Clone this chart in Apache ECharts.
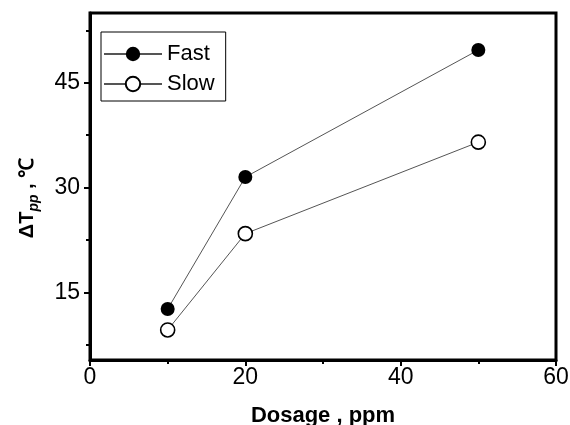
<!DOCTYPE html>
<html>
<head>
<meta charset="utf-8">
<script src="https://cdn.jsdelivr.net/npm/echarts@6/dist/echarts.min.js"></script>
<style>html,body{margin:0;padding:0;background:#fff}#c{width:570px;height:425px}</style>
</head>
<body>
<div id="c"></div>
<script>
const dosage = [10, 20, 50];
const fastValues = [12.6, 31.5, 49.7];
const slowValues = [9.6, 23.4, 36.5];
const xTicks = [0, 20, 40, 60];
const yMajorTicks = [15, 30, 45];
const yMinorTicks = [7.5, 22.5, 37.5, 52.5];
const seriesNames = ['Fast', 'Slow'];

const FONT = '"Liberation Sans", Arial, sans-serif';
const chart = echarts.init(document.getElementById('c'), null, {renderer: 'canvas'});

const pairs = (xs, ys) => xs.map((x, i) => [x, ys[i]]);

const yBase = {
  type: 'value', min: 5.3, max: 55, position: 'left',
  splitLine: {show: false}
};

chart.setOption({
  animation: false,
  backgroundColor: '#fff',
  grid: {left: 90, right: 14, top: 13, bottom: 65, containLabel: false, outerBoundsMode: 'none',
         show: true, borderColor: '#000', borderWidth: 3},
  legend: {
    orient: 'vertical', left: 101, top: 32,
    data: seriesNames,
    itemWidth: 58, itemHeight: 18, itemGap: 8,
    padding: [11, 11, 6, 2],
    borderColor: '#000', borderWidth: 1,
    textStyle: {fontFamily: FONT, fontSize: 22, color: '#000'}
  },
  xAxis: {
    type: 'value', min: 0, max: 60, interval: 20,
    name: 'Dosage , ppm', nameLocation: 'middle', nameGap: 45,
    nameTextStyle: {fontFamily: FONT, fontSize: 22, fontWeight: 'bold', color: '#000'},
    axisLine: {show: true, lineStyle: {color: '#000', width: 3}},
    axisTick: {show: true, inside: false, length: 6, lineStyle: {color: '#000', width: 2}},
    minorTick: {show: true, splitNumber: 2, length: 4, lineStyle: {color: '#000', width: 2}},
    axisLabel: {margin: 6, fontFamily: FONT, fontSize: 23, color: '#000', customValues: xTicks},
    splitLine: {show: false}
  },
  yAxis: [
    Object.assign({}, yBase, {
      axisLine: {show: true, lineStyle: {color: '#000', width: 3}},
      axisTick: {show: true, length: 6, lineStyle: {color: '#000', width: 2}, customValues: yMajorTicks},
      axisLabel: {margin: 10, fontFamily: FONT, fontSize: 23, color: '#000', customValues: yMajorTicks}
    }),
    Object.assign({}, yBase, {
      axisLine: {show: false},
      axisTick: {show: true, length: 4, lineStyle: {color: '#000', width: 2}, customValues: yMinorTicks},
      axisLabel: {show: false}
    })
  ],
  graphic: [{
    type: 'text', x: 27, y: 198, rotation: Math.PI / 2,
    style: {
      text: '{a|ΔT}{b|pp}{a| , ℃}',
      align: 'center', verticalAlign: 'middle',
      fill: '#000',
      rich: {
        a: {fontFamily: FONT, fontSize: 20, fontWeight: 'bold', fill: '#000', lineHeight: 28},
        b: {fontFamily: FONT, fontSize: 14, fontWeight: 'bold', fontStyle: 'italic', fill: '#000', verticalAlign: 'bottom'}
      }
    }
  }],
  series: [
    {
      name: seriesNames[0], type: 'line', data: pairs(dosage, fastValues),
      symbol: 'circle', symbolSize: 14,
      itemStyle: {color: '#000'},
      lineStyle: {color: '#555', width: 1}
    },
    {
      name: seriesNames[1], type: 'line', data: pairs(dosage, slowValues),
      symbol: 'circle', symbolSize: 14,
      itemStyle: {color: '#fff', borderColor: '#000', borderWidth: 1.6},
      lineStyle: {color: '#555', width: 1}
    }
  ]
});
</script>
</body>
</html>
